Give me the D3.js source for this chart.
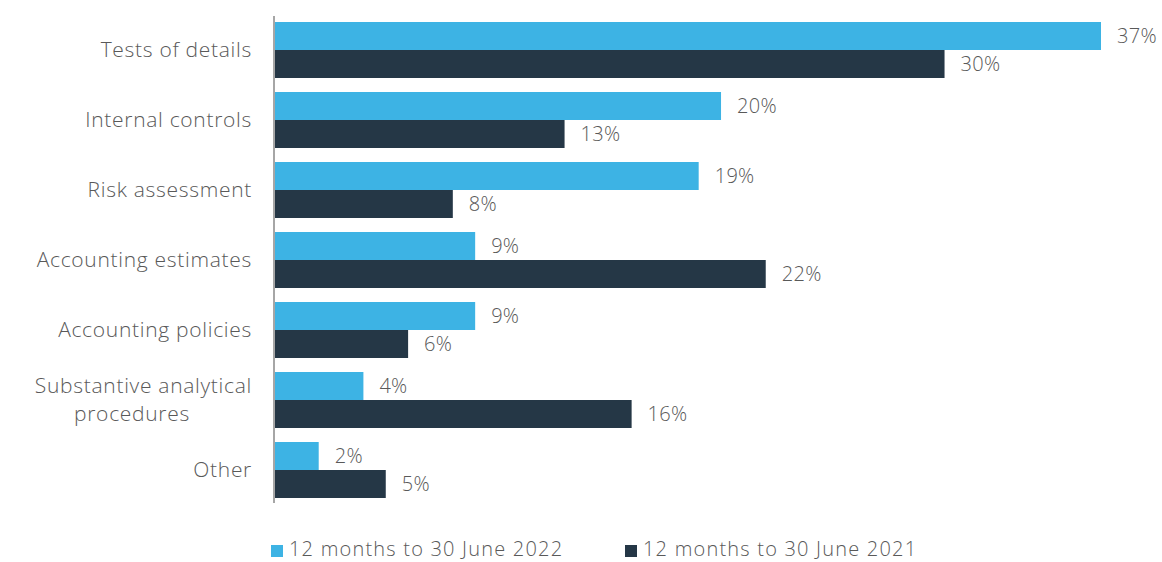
<!DOCTYPE html>
<html><head><meta charset="utf-8">
<script src="https://cdn.jsdelivr.net/npm/d3@7"></script>
<style>body{margin:0;background:#fff;} svg{display:block;}</style>
</head><body>
<svg id="chart" width="1162" height="562"></svg>
<script>
const categories = ["Tests of details","Internal controls","Risk assessment","Accounting estimates","Accounting policies","Substantive analytical procedures","Other"];
const series2022 = [37,20,19,9,9,4,2];
const series2021 = [30,13,8,22,6,16,5];
const seriesNames = ["12 months to 30 June 2022","12 months to 30 June 2021"];
const colors = ["#3DB3E4","#253746"];

(function(){
const svg = d3.select("#chart");
const font = "'Century Gothic', 'Open Sans', sans-serif";
const mLeft = 274, mTop = 15, mBottom = 505;
const x = d3.scaleLinear().domain([0,37]).range([mLeft, 1101]);
const y = d3.scaleBand().domain(categories).range([mTop,mBottom]).paddingInner(0.2).paddingOuter(0.1);
const sub = d3.scaleBand().domain([0,1]).range([0,y.bandwidth()]);

const data = categories.map((c,i)=>({c, vals:[series2022[i], series2021[i]]}));
const g = svg.append("g");
data.forEach(d=>{
  d.vals.forEach((v,k)=>{
    g.append("rect").attr("x",x(0)).attr("y",y(d.c)+sub(k)).attr("width",x(v)-x(0)).attr("height",sub.bandwidth()).attr("fill",colors[k]);
    g.append("text").attr("x",x(v)+16).attr("y",y(d.c)+sub(k)+sub.bandwidth()/2).attr("dy","0.35em")
      .attr("font-family",font).attr("font-weight",300).attr("font-size",20).attr("letter-spacing","0.3px").attr("fill","#595959").text(v+"%");
  });
});
svg.append("line").attr("x1",mLeft).attr("x2",mLeft).attr("y1",16).attr("y2",503).attr("stroke","#a6a6a6").attr("stroke-width",2);
data.forEach(d=>{
  const cy = y(d.c)+y.bandwidth()/2;
  const t = svg.append("text").attr("x",252).attr("text-anchor","end").attr("font-family",font).attr("font-weight",300)
    .attr("font-size",21).attr("letter-spacing","0.7px").attr("fill","#595959");
  if(d.c==="Substantive analytical procedures"){
    t.append("tspan").attr("x",252).attr("y",cy-14).attr("dy","0.35em").text("Substantive analytical");
    t.append("tspan").attr("x",132).attr("text-anchor","middle").attr("y",cy+14).attr("dy","0.35em").text("procedures");
  } else {
    t.attr("y",cy).attr("dy","0.35em").text(d.c);
  }
});
const lx = [271,625];
seriesNames.forEach((n,k)=>{
  svg.append("rect").attr("x",lx[k]).attr("y",545).attr("width",12).attr("height",12).attr("fill",colors[k]);
  svg.append("text").attr("x",lx[k]+18).attr("y",556).attr("font-family",font).attr("font-weight",300)
    .attr("font-size",20).attr("letter-spacing","1.2px").attr("fill","#595959").text(n);
});
})();
</script>
</body></html>
